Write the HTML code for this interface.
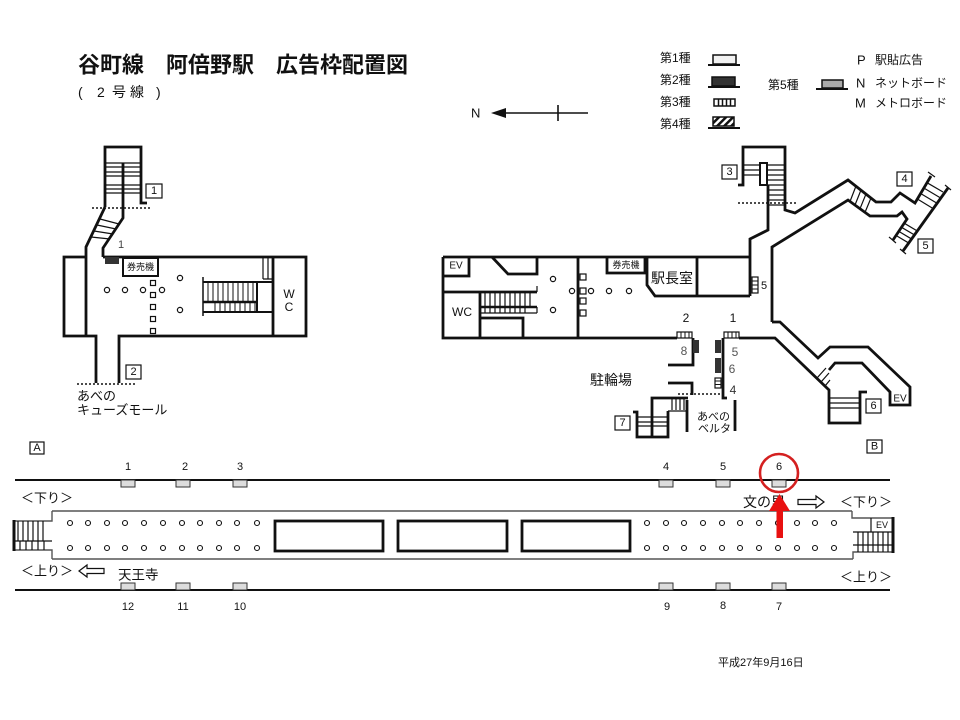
<!DOCTYPE html>
<html><head><meta charset="utf-8"><style>
html,body{margin:0;padding:0;background:#fff;}
svg{display:block;}
text{font-family:"Liberation Sans","Noto Sans CJK JP",sans-serif;fill:#111;}
</style></head><body>
<svg width="960" height="720" viewBox="0 0 960 720" xmlns="http://www.w3.org/2000/svg">
<defs>
<pattern id="hatch" patternUnits="userSpaceOnUse" width="5" height="5" patternTransform="rotate(45)"><rect width="2.5" height="5" fill="#111"/></pattern>
</defs>
<rect width="960" height="720" fill="#fff"/>

<!-- Title -->
<text x="78" y="65" font-size="22" font-weight="bold" dominant-baseline="central">谷町線　阿倍野駅　広告枠配置図</text>
<g font-size="14" dominant-baseline="central">
<text x="78" y="92">(</text><text x="97" y="92">2</text><text x="112" y="92">号</text><text x="130" y="92">線</text><text x="156" y="92">)</text>
</g>

<!-- Legend -->
<g font-size="12" dominant-baseline="central">
<text x="660" y="58">第1種</text>
<text x="660" y="80">第2種</text>
<text x="660" y="102">第3種</text>
<text x="660" y="124">第4種</text>
<text x="768" y="85">第5種</text>
<text x="857" y="60" font-size="13">P</text><text x="875" y="60">駅貼広告</text>
<text x="856" y="83" font-size="13">N</text><text x="875" y="83">ネットボード</text>
<text x="855" y="103" font-size="13">M</text><text x="875" y="103">メトロボード</text>
</g>
<g stroke="#111">
<rect x="713" y="55" width="23" height="9" fill="#f2f2f2" stroke-width="1.5"/>
<line x1="708" y1="65" x2="740" y2="65" stroke-width="2"/>
<rect x="712" y="77" width="23" height="9" fill="#333" stroke-width="1.5"/>
<line x1="708" y1="87" x2="740" y2="87" stroke-width="2"/>
<rect x="714" y="99" width="21" height="7" fill="#fff" stroke-width="1.5"/>
<path d="M718.5,99V106M722.5,99V106M726.5,99V106M730.5,99V106" stroke-width="1.5"/>
<rect x="713" y="117" width="21" height="9" fill="url(#hatch)" stroke-width="1.5"/>
<line x1="708" y1="128" x2="740" y2="128" stroke-width="2"/>
<rect x="822" y="80" width="21" height="8" fill="#aaa" stroke-width="1.5"/>
<line x1="816" y1="89" x2="848" y2="89" stroke-width="2"/>
</g>

<!-- North arrow -->
<text x="471" y="113" font-size="13" dominant-baseline="central">N</text>
<line x1="500" y1="113" x2="588" y2="113" stroke="#111" stroke-width="1.6"/>
<polygon points="491,113 506,108 506,118" fill="#111"/>
<line x1="558" y1="105" x2="558" y2="121" stroke="#111" stroke-width="1.6"/>

<!-- ================= LEFT CONCOURSE ================= -->
<g fill="none" stroke="#111" stroke-width="2.8" stroke-linejoin="miter">
<path d="M105,207 L105,147 L141,147 L141,203 L147,203"/>
<path d="M123,163 L123,218 L103,248 L103,257"/>
<path d="M105,207 L86,247 L86,336"/>
<path d="M86,257 L64,257 L64,336 L96,336 L96,383"/>
<path d="M103,257 L306,257 L306,336 L119,336 L119,383"/>
<path d="M273,257 L273,336"/>
</g>
<g stroke="#111" stroke-width="1.2">
<path d="M105,163H141M105,167H141M105,172H141M105,176H141M105,185H141M105,189H141M105,193H141"/>
<path d="M100,219L119,224M97,225L116,229M94,231L113,234M91,237L110,239"/>
</g>
<line x1="92" y1="208" x2="150" y2="208" stroke="#111" stroke-width="1.5" stroke-dasharray="2,2"/>
<rect x="146" y="184" width="16" height="14" fill="#fff" stroke="#111" stroke-width="1.2"/>
<text x="154" y="191" font-size="11" text-anchor="middle" dominant-baseline="central">1</text>
<text x="121" y="245" font-size="11" text-anchor="middle" dominant-baseline="central" style="fill:#444">1</text>
<rect x="105" y="257" width="14" height="7" fill="#333"/>
<rect x="123" y="258" width="35" height="18" fill="#fff" stroke="#111" stroke-width="2"/>
<text x="140.5" y="267" font-size="9" text-anchor="middle" dominant-baseline="central">券売機</text>
<g fill="#fff" stroke="#111" stroke-width="1.2">
<circle cx="107" cy="290" r="2.6"/><circle cx="125" cy="290" r="2.6"/><circle cx="143" cy="290" r="2.6"/><circle cx="162" cy="290" r="2.6"/>
<circle cx="180" cy="278" r="2.6"/><circle cx="180" cy="310" r="2.6"/>
<rect x="150.5" y="280.5" width="5" height="5"/><rect x="150.5" y="292.5" width="5" height="5"/><rect x="150.5" y="304.5" width="5" height="5"/><rect x="150.5" y="316.5" width="5" height="5"/><rect x="150.5" y="328.5" width="5" height="5"/>
</g>
<!-- stairs in left concourse -->
<g stroke="#111" fill="none">
<path d="M203,277V316" stroke-width="1.5"/>
<path d="M203,282H273M203,312H273M257,282V312" stroke-width="2"/>
<path d="M203,302H257" stroke-width="2.6"/>
<path d="M208,282V302M213,282V302M218,282V302M223,282V302M228,282V302M233,282V302M238,282V302M243,282V302M248,282V302M253,282V302" stroke-width="1"/>
<path d="M215,303V312M220,303V312M225,303V312M230,303V312M235,303V312M240,303V312M245,303V312M250,303V312M255,303V312" stroke-width="1"/>
<path d="M263,257V279M268,257V279M263,279H273" stroke-width="1.2"/>
</g>
<text x="289" y="294" font-size="12" text-anchor="middle" dominant-baseline="central">W</text>
<text x="289" y="307" font-size="12" text-anchor="middle" dominant-baseline="central">C</text>
<rect x="126" y="365" width="15" height="14" fill="#fff" stroke="#111" stroke-width="1.2"/>
<text x="133.5" y="372" font-size="11" text-anchor="middle" dominant-baseline="central">2</text>
<line x1="77" y1="384" x2="136" y2="384" stroke="#111" stroke-width="1.5" stroke-dasharray="2,2"/>
<text x="77" y="396" font-size="13" dominant-baseline="central">あべの</text>
<text x="77" y="410" font-size="13" dominant-baseline="central">キューズモール</text>

<!-- ================= RIGHT CONCOURSE ================= -->
<g fill="none" stroke="#111" stroke-width="2.8" stroke-linejoin="miter">
<path d="M443,257 L750,257"/>
<path d="M443,257 L443,338 L677,338"/>
<path d="M443,276 L469,276 L469,257"/>
<path d="M443,292 L537,292"/>
<path d="M480,292 L480,338 M480,318 L523,318 L523,338"/>
<path d="M492,257 L508,274 L537,274 L537,257"/>
<path d="M578,257 L578,338"/>
<path d="M607,257 L607,273 L645,273 L645,257"/>
<path d="M647,257 L647,285 L655,296 L750,296 M697,257 L697,296"/>
<path d="M768,185 L768,230 L750,239 L750,296"/>
<path d="M738,185 L743,185 L743,147 L785,147 L785,210 L795,213 L848,180 L876,202 L891,202 L900,193 L915,203 L931,176"/>
<path d="M772,322 L772,247 L848,200 L870,216 L897,216 L902,212 L907,219 L893,240"/>
<path d="M903,251 L948,188"/>
<path d="M693,338 L693,365 L668,365"/>
<path d="M723,338 L723,398 L727,398"/>
<path d="M739,338 L775,338 L829,390 L829,423 L860,423 L860,392 L867,392"/>
<path d="M772,322 L780,322 L818,358 L830,347 L868,347 L910,387 L910,405 L890,405 L890,392 L862,363 L835,363 L829,370"/>
<path d="M668,383 L692,383 L692,395"/>
<path d="M652,437 L652,398 L688,398"/>
<path d="M687,400 L687,432"/>
<path d="M668,411 L668,437 L637,437 L637,412 L633,412"/>
<path d="M735,400 L735,431"/>
</g>
<rect x="760" y="163" width="7" height="22" fill="#fff" stroke="#111" stroke-width="2"/>
<g stroke="#111" stroke-width="1.2" fill="none">
<!-- stair 3 treads -->
<path d="M743,165H760M743,170H760M743,175H760"/>
<path d="M767,165H785M767,170H785M767,175H785M767,180H785M767,185H785M767,190H785M767,195H785M767,200H785M767,205H785"/>
<!-- stair 4/5 -->
<path d="M917.4,199L933,208.5M920.6,193.5L936.6,203M923.8,188L939.8,197.5M927,182.7L943,192"/>
<path d="M904.2,223.2L917.3,231M901.5,227.3L914.6,235M898.8,231.4L911.9,239.2M896.1,235.5L909.2,243.3"/>
<path d="M928,172L935,177M945,185L951,190M889,237L896,243M900,249L906,254"/>
<path d="M856,186L850,201.5M861,190L855,205M866,194L860,208.7M871,198L865,212.4"/>
<!-- stair 6 -->
<path d="M829,398H860M829,403H860M829,408H860"/>
<path d="M817,378L826,368M821,382L829,373M825,386L830,380"/>
<!-- concourse stair -->
<path d="M485,292V307M490,292V307M495,292V307M500,292V307M505,292V307M510,292V307M515,292V307M520,292V307M525,292V307M530,292V307"/>
<path d="M485,308V313M490,308V313M495,308V313M500,308V313M505,308V313M510,308V313M515,308V313M520,308V313M525,308V313"/>
<path d="M480,313H537"/>
<path d="M537,286V292M537,307V313"/>
<!-- stair 7 -->
<path d="M637,417H668M637,422H668M637,426H668"/>
<path d="M672,398V410M676,398V410M680,398V410M684,398V410M668,411H686"/>
</g>
<path d="M480,307H537" stroke="#111" stroke-width="2.5"/>
<line x1="738" y1="203" x2="798" y2="203" stroke="#111" stroke-width="1.5" stroke-dasharray="2,2"/>
<line x1="678" y1="394" x2="722" y2="394" stroke="#111" stroke-width="1.5" stroke-dasharray="2,2"/>
<!-- concourse circles/squares -->
<g fill="#fff" stroke="#111" stroke-width="1.2">
<circle cx="553" cy="279" r="2.6"/><circle cx="553" cy="310" r="2.6"/>
<circle cx="572" cy="291" r="2.6"/><circle cx="591" cy="291" r="2.6"/><circle cx="609" cy="291" r="2.6"/><circle cx="629" cy="291" r="2.6"/>
<rect x="580" y="274" width="6" height="6"/><rect x="580" y="288" width="6" height="6"/><rect x="580" y="298" width="6" height="6"/><rect x="580" y="310" width="6" height="6"/>
</g>
<text x="456" y="266" font-size="10" text-anchor="middle" dominant-baseline="central">EV</text>
<text x="462" y="312" font-size="12" text-anchor="middle" dominant-baseline="central">WC</text>
<text x="626" y="265" font-size="9" text-anchor="middle" dominant-baseline="central">券売機</text>
<text x="672" y="278" font-size="14" text-anchor="middle" dominant-baseline="central">駅長室</text>
<!-- hatch 5 -->
<rect x="752" y="277" width="6" height="16" fill="#fff" stroke="#111" stroke-width="1.2"/>
<path d="M752,281H758M752,285H758M752,289H758" stroke="#111" stroke-width="1"/>
<text x="764" y="286" font-size="11" text-anchor="middle" dominant-baseline="central">5</text>
<!-- exits 1/2 hatches -->
<rect x="677" y="332" width="15" height="6" fill="#fff" stroke="#111" stroke-width="1.2"/>
<path d="M681,332V338M685,332V338M689,332V338" stroke="#111" stroke-width="1"/>
<rect x="724" y="332" width="15" height="6" fill="#fff" stroke="#111" stroke-width="1.2"/>
<path d="M728,332V338M732,332V338M736,332V338" stroke="#111" stroke-width="1"/>
<rect x="693" y="340" width="6" height="13" fill="#333"/>
<rect x="715" y="340" width="6" height="13" fill="#333"/>
<rect x="715" y="358" width="6" height="15" fill="#333"/>
<rect x="715" y="378" width="6" height="10" fill="#fff" stroke="#111" stroke-width="1.2"/>
<path d="M715,381H721M715,384.5H721" stroke="#111" stroke-width="1"/>
<g font-size="12" text-anchor="middle" dominant-baseline="central">
<text x="686" y="318">2</text><text x="733" y="318">1</text>
<text x="684" y="351" style="fill:#555">8</text>
<text x="735" y="352" style="fill:#555">5</text>
<text x="732" y="369" style="fill:#555">6</text>
<text x="733" y="390" style="fill:#333">4</text>
</g>
<text x="900" y="399" font-size="10" text-anchor="middle" dominant-baseline="central">EV</text>
<text x="590" y="380" font-size="14" dominant-baseline="central">駐輪場</text>
<text x="697" y="417" font-size="11" dominant-baseline="central">あべの</text>
<text x="698" y="429" font-size="11" dominant-baseline="central">ベルタ</text>
<!-- number boxes -->
<g fill="#fff" stroke="#111" stroke-width="1.2">
<rect x="722" y="165" width="15" height="14"/>
<rect x="897" y="172" width="15" height="14"/>
<rect x="918" y="239" width="15" height="14"/>
<rect x="866" y="399" width="15" height="14"/>
<rect x="615" y="416" width="15" height="14"/>
<rect x="30" y="442" width="14" height="12"/>
<rect x="867" y="440" width="15" height="13"/>
</g>
<g font-size="11" text-anchor="middle" dominant-baseline="central">
<text x="729.5" y="172">3</text>
<text x="904.5" y="179">4</text>
<text x="925.5" y="246">5</text>
<text x="873.5" y="406">6</text>
<text x="622.5" y="423">7</text>
<text x="37" y="448">A</text>
<text x="874.5" y="446.5">B</text>
</g>

<!-- ================= PLATFORM ================= -->
<g stroke="#111" stroke-width="2">
<line x1="15" y1="480" x2="890" y2="480"/>
<line x1="15" y1="590" x2="890" y2="590"/>
</g>
<g stroke="#555" stroke-width="1.4" fill="none">
<path d="M52,511 H852"/>
<path d="M52,559 H853"/>
<path d="M52,511 V521 H14 M14,550 H52 V559"/>
<path d="M852,511 V518 H893 V552 H853 V559"/>
</g>
<path d="M14,520 V551" stroke="#111" stroke-width="3"/>
<path d="M893,517 V553" stroke="#111" stroke-width="3"/>
<g stroke="#111" stroke-width="1.2" fill="none">
<path d="M18,521V541M23,521V541M28,521V541M33,521V541M38,521V541M43,521V541M14,541H52"/>
<path d="M20,541V550M26,541V550M32,541V550M38,541V550M44,541V550"/>
<path d="M871,518V532H893M853,532H871"/>
<path d="M858,532V552M863,532V552M868,532V552M873,532V552M878,532V552M883,532V552M888,532V552M853,545H893"/>
</g>
<text x="882" y="525" font-size="9" text-anchor="middle" dominant-baseline="central">EV</text>
<g fill="#fff" stroke="#111" stroke-width="2.8">
<rect x="275" y="521" width="108" height="30"/>
<rect x="398" y="521" width="109" height="30"/>
<rect x="522" y="521" width="108" height="30"/>
</g>
<g fill="#fff" stroke="#111" stroke-width="1.1">
<circle cx="70" cy="523" r="2.5"/><circle cx="88" cy="523" r="2.5"/><circle cx="107" cy="523" r="2.5"/><circle cx="125" cy="523" r="2.5"/><circle cx="144" cy="523" r="2.5"/><circle cx="163" cy="523" r="2.5"/><circle cx="182" cy="523" r="2.5"/><circle cx="200" cy="523" r="2.5"/><circle cx="219" cy="523" r="2.5"/><circle cx="237" cy="523" r="2.5"/><circle cx="257" cy="523" r="2.5"/>
<circle cx="70" cy="548" r="2.5"/><circle cx="88" cy="548" r="2.5"/><circle cx="107" cy="548" r="2.5"/><circle cx="125" cy="548" r="2.5"/><circle cx="144" cy="548" r="2.5"/><circle cx="163" cy="548" r="2.5"/><circle cx="182" cy="548" r="2.5"/><circle cx="200" cy="548" r="2.5"/><circle cx="219" cy="548" r="2.5"/><circle cx="237" cy="548" r="2.5"/><circle cx="257" cy="548" r="2.5"/>
<circle cx="647" cy="523" r="2.5"/><circle cx="666" cy="523" r="2.5"/><circle cx="684" cy="523" r="2.5"/><circle cx="703" cy="523" r="2.5"/><circle cx="722" cy="523" r="2.5"/><circle cx="740" cy="523" r="2.5"/><circle cx="759" cy="523" r="2.5"/><circle cx="778" cy="523" r="2.5"/><circle cx="797" cy="523" r="2.5"/><circle cx="815" cy="523" r="2.5"/><circle cx="834" cy="523" r="2.5"/>
<circle cx="647" cy="548" r="2.5"/><circle cx="666" cy="548" r="2.5"/><circle cx="684" cy="548" r="2.5"/><circle cx="703" cy="548" r="2.5"/><circle cx="722" cy="548" r="2.5"/><circle cx="740" cy="548" r="2.5"/><circle cx="759" cy="548" r="2.5"/><circle cx="778" cy="548" r="2.5"/><circle cx="797" cy="548" r="2.5"/><circle cx="815" cy="548" r="2.5"/><circle cx="834" cy="548" r="2.5"/>
</g>
<!-- ad frames -->
<g fill="#ddd" stroke="#333" stroke-width="1">
<rect x="121" y="480" width="14" height="7"/><rect x="176" y="480" width="14" height="7"/><rect x="233" y="480" width="14" height="7"/>
<rect x="659" y="480" width="14" height="7"/><rect x="716" y="480" width="14" height="7"/><rect x="772" y="480" width="14" height="7"/>
<rect x="121" y="583" width="14" height="7"/><rect x="176" y="583" width="14" height="7"/><rect x="233" y="583" width="14" height="7"/>
<rect x="659" y="583" width="14" height="7"/><rect x="716" y="583" width="14" height="7"/><rect x="772" y="583" width="14" height="7"/>
</g>
<g font-size="11" text-anchor="middle" dominant-baseline="central">
<text x="128" y="467">1</text><text x="185" y="467">2</text><text x="240" y="467">3</text>
<text x="666" y="467">4</text><text x="723" y="467">5</text><text x="779" y="467">6</text>
<text x="128" y="607">12</text><text x="183" y="607">11</text><text x="240" y="607">10</text>
<text x="667" y="607">9</text><text x="723" y="606">8</text><text x="779" y="607">7</text>
</g>
<g font-size="13" dominant-baseline="central">
<text x="21" y="498">＜下り＞</text>
<text x="21" y="571">＜上り＞</text>
<text x="840" y="502">＜下り＞</text>
<text x="840" y="577">＜上り＞</text>
<text x="118" y="575" font-size="13.5">天王寺</text>
<text x="743" y="502" font-size="14">文の里</text>
</g>
<polygon points="79,571 87,565 87,568.5 104,568.5 104,573.5 87,573.5 87,577" fill="#fff" stroke="#111" stroke-width="1.2"/>
<polygon points="824,502 816,496 816,499.5 798,499.5 798,504.5 816,504.5 816,508" fill="#fff" stroke="#111" stroke-width="1.2"/>

<!-- red highlight -->
<circle cx="779" cy="473" r="19" fill="none" stroke="#d42020" stroke-width="2.6"/>
<rect x="776.5" y="509" width="6.5" height="29" fill="#e81010"/>
<polygon points="769,511 790,511 779.5,494" fill="#e81010"/>

<!-- date -->
<text x="718" y="663" font-size="11" dominant-baseline="central">平成27年9月16日</text>
</svg>
</body></html>
